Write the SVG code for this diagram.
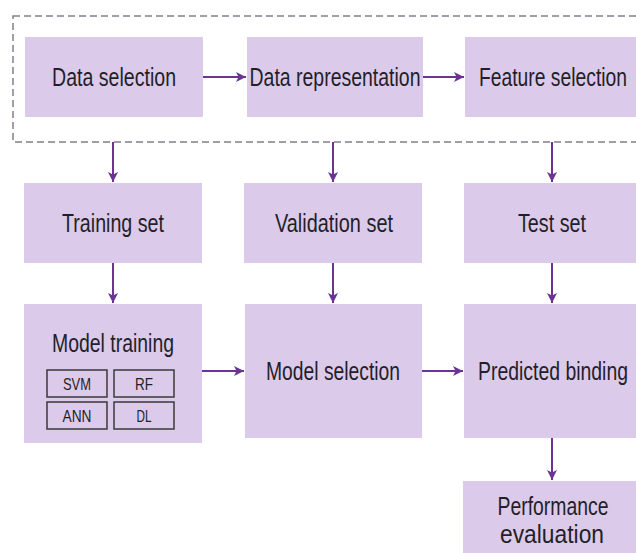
<svg xmlns="http://www.w3.org/2000/svg" width="636" height="553" viewBox="0 0 636 553">
<defs>
<marker id="ah" viewBox="0 0 10 10" refX="10" refY="5" markerWidth="10" markerHeight="10" markerUnits="userSpaceOnUse" orient="auto">
<path d="M0,0 L10,5 L0,10 L2.5,5 Z" fill="#6b3394"/>
</marker>
<style>
.box{fill:#dccaeb;}
.t{font-family:"Liberation Sans",Arial,sans-serif;font-size:20px;fill:#231f28;text-anchor:middle;}
.s{font-family:"Liberation Sans",Arial,sans-serif;font-size:13px;fill:#231f28;text-anchor:middle;}
.sb{fill:none;stroke:#3a3a3a;stroke-width:1.5;}
.c{stroke:#6b3394;stroke-width:2;fill:none;marker-end:url(#ah);}
.dash{fill:none;stroke:#857d8e;stroke-width:1.5;stroke-dasharray:7 4;}
</style>
</defs>
<rect width="636" height="553" fill="#ffffff"/>
<rect class="dash" x="13" y="16" width="640" height="126"/>

<g id="data-selection"><rect class="box" x="25" y="37" width="178" height="80"/><text class="t" transform="translate(114,86) scale(1,1.3)" textLength="124" lengthAdjust="spacingAndGlyphs">Data selection</text></g>
<g id="data-representation"><rect class="box" x="247" y="37" width="176" height="80"/><text class="t" transform="translate(335,86) scale(1,1.3)" textLength="171" lengthAdjust="spacingAndGlyphs">Data representation</text></g>
<g id="feature-selection"><rect class="box" x="465" y="37" width="171" height="80"/><text class="t" transform="translate(553,86) scale(1,1.3)" textLength="148" lengthAdjust="spacingAndGlyphs">Feature selection</text></g>

<g id="training-set"><rect class="box" x="24" y="183" width="178" height="80"/><text class="t" transform="translate(113,232) scale(1,1.3)" textLength="102" lengthAdjust="spacingAndGlyphs">Training set</text></g>
<g id="validation-set"><rect class="box" x="244" y="183" width="178" height="80"/><text class="t" transform="translate(334,232) scale(1,1.3)" textLength="118" lengthAdjust="spacingAndGlyphs">Validation set</text></g>
<g id="test-set"><rect class="box" x="464" y="183" width="172" height="80"/><text class="t" transform="translate(552,232) scale(1,1.3)" textLength="68" lengthAdjust="spacingAndGlyphs">Test set</text></g>

<g id="model-training"><rect class="box" x="24" y="304" width="178" height="139"/><text class="t" transform="translate(113,352) scale(1,1.3)" textLength="122" lengthAdjust="spacingAndGlyphs">Model training</text>
<rect class="sb" x="47" y="370" width="60" height="27"/><text class="s" transform="translate(77,390) scale(1,1.25)" textLength="28" lengthAdjust="spacingAndGlyphs">SVM</text>
<rect class="sb" x="114" y="370" width="60" height="27"/><text class="s" transform="translate(144,390) scale(1,1.25)" textLength="18" lengthAdjust="spacingAndGlyphs">RF</text>
<rect class="sb" x="47" y="402" width="60" height="27"/><text class="s" transform="translate(77,422) scale(1,1.25)" textLength="29" lengthAdjust="spacingAndGlyphs">ANN</text>
<rect class="sb" x="114" y="402" width="60" height="27"/><text class="s" transform="translate(144,422) scale(1,1.25)" textLength="15" lengthAdjust="spacingAndGlyphs">DL</text>
</g>
<g id="model-selection"><rect class="box" x="245" y="304" width="177" height="134"/><text class="t" transform="translate(333,380) scale(1,1.3)" textLength="134" lengthAdjust="spacingAndGlyphs">Model selection</text></g>
<g id="predicted-binding"><rect class="box" x="464" y="304" width="172" height="134"/><text class="t" transform="translate(553,380) scale(1,1.3)" textLength="150" lengthAdjust="spacingAndGlyphs">Predicted binding</text></g>
<g id="performance-evaluation"><rect class="box" x="463" y="481" width="173" height="72"/><text class="t" transform="translate(553,515) scale(1,1.3)" textLength="111" lengthAdjust="spacingAndGlyphs">Performance</text><text class="t" transform="translate(552,543) scale(1,1.3)" textLength="104" lengthAdjust="spacingAndGlyphs">evaluation</text></g>

<g id="connectors">
<line class="c" x1="203" y1="77" x2="246" y2="77"/>
<line class="c" x1="423" y1="77" x2="464" y2="77"/>
<line class="c" x1="113" y1="142" x2="113" y2="182"/>
<line class="c" x1="333" y1="142" x2="333" y2="182"/>
<line class="c" x1="552" y1="142" x2="552" y2="182"/>
<line class="c" x1="113" y1="263" x2="113" y2="303"/>
<line class="c" x1="333" y1="263" x2="333" y2="303"/>
<line class="c" x1="552" y1="263" x2="552" y2="303"/>
<line class="c" x1="202" y1="371" x2="244" y2="371"/>
<line class="c" x1="422" y1="371" x2="463" y2="371"/>
<line class="c" x1="552" y1="438" x2="552" y2="480"/>
</g>
</svg>
